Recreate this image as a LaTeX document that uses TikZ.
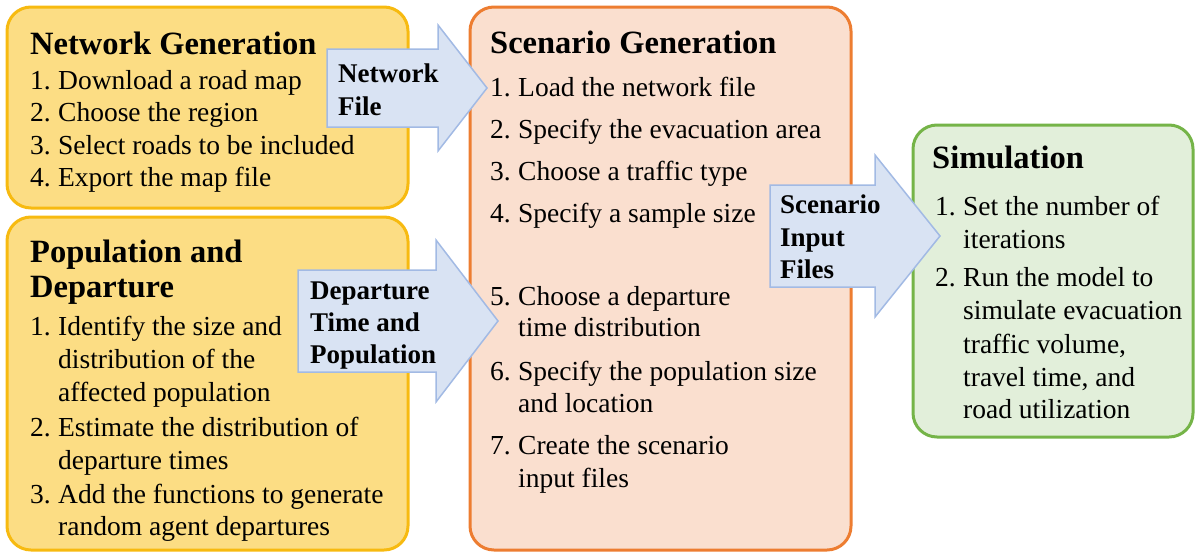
\documentclass[tikz,border=0pt]{standalone}
\usepackage{fontspec}
\setmainfont{Liberation Serif}
\definecolor{yfill}{RGB}{252,221,132}
\definecolor{ydraw}{RGB}{247,186,16}
\definecolor{ofill}{RGB}{250,223,207}
\definecolor{odraw}{RGB}{237,125,49}
\definecolor{gfill}{RGB}{226,239,218}
\definecolor{gdraw}{RGB}{117,180,72}
\definecolor{bfill}{RGB}{217,227,243}
\definecolor{bdraw}{RGB}{162,186,228}
\tikzset{
  box/.style={rounded corners=24pt, line width=3pt, inner sep=0pt},
  ybox/.style={box, fill=yfill, draw=ydraw},
  obox/.style={box, fill=ofill, draw=odraw},
  gbox/.style={box, fill=gfill, draw=gdraw},
  item/.style={anchor=base west, inner sep=0pt, font=\fontsize{27.5}{33}\selectfont},
  ttl/.style={anchor=base west, inner sep=0pt, font=\fontsize{32.5}{38}\selectfont\bfseries},
  alabel/.style={anchor=base west, inner sep=0pt, font=\fontsize{27}{32}\selectfont\bfseries},
  barrow/.style={fill=bfill, draw=bdraw, line width=1.5pt, line join=miter},
}
\newcommand{\num}[1]{\makebox[28pt][l]{#1}}
\begin{document}
\begin{tikzpicture}[x=1pt,y=-1pt]
\useasboundingbox (0,0) rectangle (1196,552);
% boxes
\node[ybox, minimum width=401pt, minimum height=201pt] (netgen) at (207.5,107.5) {};
\node[ybox, minimum width=401pt, minimum height=333pt] (popdep) at (207.5,383.5) {};
\node[obox, minimum width=381pt, minimum height=543pt] (scen) at (660.5,278.5) {};
\node[gbox, minimum width=280pt, minimum height=312pt] (sim) at (1053,281) {};
% block arrows
\draw[barrow] (327,49) -- (438,49) -- (438,25) -- (487,88) -- (438,151) -- (438,127) -- (327,127) -- cycle;
\draw[barrow] (298,270) -- (436,270) -- (436,240) -- (498,321) -- (436,402) -- (436,372) -- (298,372) -- cycle;
\draw[barrow] (770,185) -- (875,185) -- (875,155) -- (940,236) -- (875,317) -- (875,287) -- (770,287) -- cycle;
% arrow labels
\node[alabel] (a1l1) at (338,82) {Network};
\node[alabel] (a1l2) at (338,115) {File};
\node[alabel] (a2l1) at (310,299) {Departure};
\node[alabel] (a2l2) at (310,331) {Time and};
\node[alabel] (a2l3) at (310,363) {Population};
\node[alabel] (a3l1) at (780,213) {Scenario};
\node[alabel] (a3l2) at (780,246) {Input};
\node[alabel] (a3l3) at (780,278) {Files};
% box 1
\node[ttl] (t1) at (30,54) {Network Generation};
\node[item] (b1i1) at (30,89) {\num{1.}Download a road map};
\node[item] (b1i2) at (30,121) {\num{2.}Choose the region};
\node[item] (b1i3) at (30,154) {\num{3.}Select roads to be included};
\node[item] (b1i4) at (30,186) {\num{4.}Export the map file};
% box 2
\node[ttl] (t2a) at (30,262) {Population and};
\node[ttl] (t2b) at (30,297) {Departure};
\node[item] (b2i1) at (30,335) {\num{1.}Identify the size and};
\node[item] (b2i1b) at (58,368) {distribution of the};
\node[item] (b2i1c) at (58,401) {affected population};
\node[item] (b2i2) at (30,436) {\num{2.}Estimate the distribution of};
\node[item] (b2i2b) at (58,469) {departure times};
\node[item] (b2i3) at (30,503) {\num{3.}Add the functions to generate};
\node[item] (b2i3b) at (58,535) {random agent departures};
% box 3
\node[ttl] (t3) at (490,53) {Scenario Generation};
\node[item] (b3i1) at (490,96) {\num{1.}Load the network file};
\node[item] (b3i2) at (490,138) {\num{2.}Specify the evacuation area};
\node[item] (b3i3) at (490,180) {\num{3.}Choose a traffic type};
\node[item] (b3i4) at (490,222) {\num{4.}Specify a sample size};
\node[item] (b3i5) at (490,305) {\num{5.}Choose a departure};
\node[item] (b3i5b) at (518,336) {time distribution};
\node[item] (b3i6) at (490,380) {\num{6.}Specify the population size};
\node[item] (b3i6b) at (518,412) {and location};
\node[item] (b3i7) at (490,454) {\num{7.}Create the scenario};
\node[item] (b3i7b) at (518,487) {input files};
% box 4
\node[ttl] (t4) at (932,168) {Simulation};
\node[item] (b4i1) at (935,215) {\num{1.}Set the number of};
\node[item] (b4i1b) at (963,248) {iterations};
\node[item] (b4i2) at (935,286) {\num{2.}Run the model to};
\node[item] (b4i2b) at (963,319) {simulate evacuation};
\node[item] (b4i2c) at (963,353) {traffic volume,};
\node[item] (b4i2d) at (963,386) {travel time, and};
\node[item] (b4i2e) at (963,418) {road utilization};
\end{tikzpicture}
\end{document}
